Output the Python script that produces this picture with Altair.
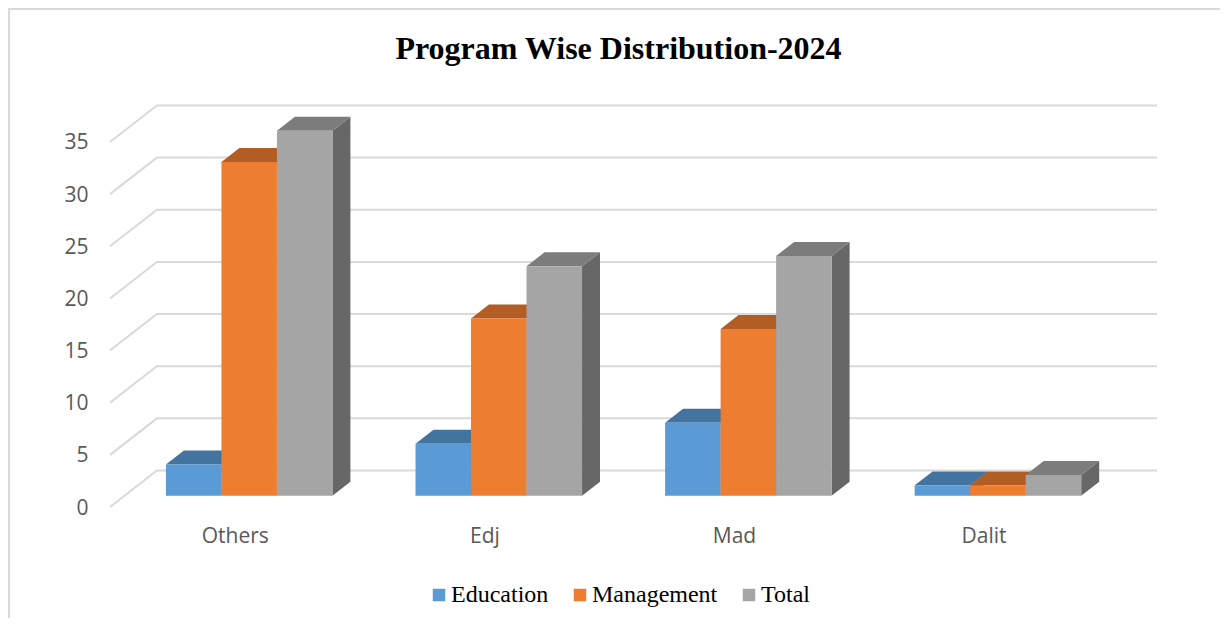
import altair as alt
import pandas as pd

CATEGORIES = ["Others", "Edj", "Mad", "Dalit"]
SERIES = ["Education", "Management", "Total"]
EDUCATION = [3, 5, 7, 1]
MANAGEMENT = [32, 17, 16, 1]
TOTAL = [35, 22, 23, 2]
TICKS = [0, 5, 10, 15, 20, 25, 30, 35]
FRONT = ["#5B9BD5", "#ED7D31", "#A5A5A5"]
TOPS = ["#43749F", "#B15D24", "#7C7C7C"]
SIDES = ["#3D6A91", "#A25520", "#676767"]

# 3-D projection: wall depth in axis units, bar depth as fraction of the wall
DX, DY = 0.188, 3.5
Z0, Z1 = 0.307, 0.69
BAR = 0.2224
XMAX = 4.195

values = [EDUCATION, MANAGEMENT, TOTAL]
front, top, side = [], [], []
for s, name in enumerate(SERIES):
    for i, c in enumerate(CATEGORIES):
        v = values[s][i]
        xl = i + 0.5 - 1.5 * BAR + s * BAR
        xr = xl + BAR
        key = f"{name}-{c}"
        front.append(dict(series=name, x=xl + Z0 * DX, x2=xr + Z0 * DX, y=v + Z0 * DY, y2=Z0 * DY))
        a, b = v + Z0 * DY, v + Z1 * DY
        top += [
            dict(series=name, key=key, x=xl + Z0 * DX, y=a, y2=a),
            dict(series=name, key=key, x=xl + Z1 * DX, y=b, y2=a),
            dict(series=name, key=key, x=xr + Z0 * DX, y=b, y2=a),
            dict(series=name, key=key, x=xr + Z1 * DX, y=b, y2=b),
        ]
        side += [
            dict(series=name, key=key, x=xr + Z0 * DX, y=a, y2=Z0 * DY),
            dict(series=name, key=key, x=xr + Z1 * DX, y=b, y2=Z1 * DY),
        ]
front, top, side = pd.DataFrame(front), pd.DataFrame(top), pd.DataFrame(side)

grid = []
for t in TICKS:
    grid += [
        dict(tick=t, o=0, x=0, y=t),
        dict(tick=t, o=1, x=DX, y=t + DY),
        dict(tick=t, o=2, x=XMAX, y=t + DY),
    ]
grid = pd.DataFrame(grid)

xs = alt.Scale(domain=[0, XMAX], range=[0, 1047], nice=False, zero=False)
ys = alt.Scale(domain=[0, 38.45], range=[401, 0], nice=False, zero=False)
LABEL_FONT = "Open Sans"
labels_js = "[" + ",".join(f"'{c}'" for c in CATEGORIES) + "]"

x_axis = alt.Axis(
    values=[i + 0.5 for i in range(len(CATEGORIES))],
    labelExpr=f"{labels_js}[floor(datum.value)]",
    title=None, domain=False, ticks=False, grid=False,
    labelFont=LABEL_FONT, labelFontSize=21, labelColor="#595959", labelPadding=18,
)
y_axis = alt.Axis(
    values=TICKS, title=None, domain=False, ticks=False, grid=False,
    labelFont=LABEL_FONT, labelFontSize=21, labelColor="#595959", labelPadding=22, labelOffset=1,
)
X = alt.X("x:Q", scale=xs, axis=x_axis)
Y = alt.Y("y:Q", scale=ys, axis=y_axis)

layers = [
    alt.Chart(grid).mark_line(color="#D9D9D9", strokeWidth=2).encode(
        x=X, y=Y, detail="tick:N", order="o:Q",
    )
]
for s, name in enumerate(SERIES):
    layers.append(
        alt.Chart(side[side.series == name]).mark_area(color=SIDES[s]).encode(
            x=X, y=Y, y2="y2:Q", detail="key:N"
        )
    )
    layers.append(
        alt.Chart(top[top.series == name]).mark_area(color=TOPS[s]).encode(
            x=X, y=Y, y2="y2:Q", detail="key:N"
        )
    )
    layers.append(
        alt.Chart(front[front.series == name]).mark_rect().encode(
            x=X, x2="x2:Q", y=Y, y2="y2:Q",
            color=alt.Color(
                "series:N",
                scale=alt.Scale(domain=SERIES, range=FRONT),
                legend=alt.Legend(
                    title=None, orient="none", direction="horizontal",
                    legendX=317, legendY=477, symbolType="square", symbolSize=156,
                    symbolStrokeWidth=0, labelFont="Liberation Serif", labelFontSize=24,
                    labelColor="#000000", columnPadding=19, labelOffset=0, padding=0,
                ),
            ),
        )
    )

frame_src = pd.DataFrame({"a": [0]})
layers.append(
    alt.Chart(frame_src).mark_rule(color="#D9D9D9", strokeWidth=2).encode(
        x=alt.value(-101), y=alt.value(-98), y2=alt.value(512)
    )
)
layers.append(
    alt.Chart(frame_src).mark_rule(color="#D9D9D9", strokeWidth=2).encode(
        y=alt.value(-97), x=alt.value(-102), x2=alt.value(1110)
    )
)

chart = alt.layer(*layers).properties(
    width=1047,
    height=401,
    title=alt.TitleParams(
        "Program Wise Distribution-2024",
        font="Liberation Serif", fontSize=32, fontWeight="bold", color="#000000",
        anchor="middle", dx=-15, offset=-59,
    ),
    autosize=alt.AutoSizeParams(type="none"),
    padding={"left": 102, "top": 98, "right": 63, "bottom": 111},
).configure_view(stroke=None)

chart.save("out.html", embed_options={"renderer": "svg", "actions": False})
